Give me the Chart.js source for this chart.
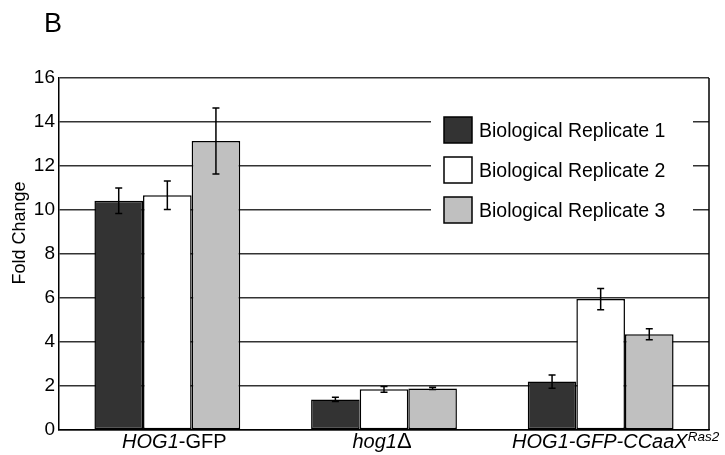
<!DOCTYPE html>
<html>
<head>
<meta charset="utf-8">
<script src="https://cdn.jsdelivr.net/npm/chart.js@4/dist/chart.umd.min.js"></script>
<style>
  html, body { margin: 0; padding: 0; background: #fff; }
  #wrap { width: 725px; height: 455px; position: relative; }
</style>
</head>
<body>
<div id="wrap"><canvas id="chart" width="725" height="455"></canvas></div>
<script>
'use strict';

// ── DATA ──────────────────────────────────────────────────────────────────────
const CATEGORIES = ['HOG1-GFP', 'hog1Δ', 'HOG1-GFP-CCaaX Ras2'];
// label runs: [text, italic, superscript]
const CATEGORY_RUNS = [
  [['HOG1', true], ['-GFP', false]],
  [['hog1', true], ['Δ', false]],
  [['HOG1-GFP-CCaaX', true], ['Ras2', true, true]],
];
const SERIES = ['Biological Replicate 1', 'Biological Replicate 2', 'Biological Replicate 3'];
const REP1 = [10.42, 1.39, 2.20];
const REP2 = [10.67, 1.85, 5.95];
const REP3 = [13.14, 1.89, 4.35];
const ERR1 = [0.58, 0.10, 0.30];
const ERR2 = [0.65, 0.13, 0.48];
const ERR3 = [1.50, 0.05, 0.25];
const Y_TICKS = [0, 2, 4, 6, 8, 10, 12, 14, 16];

const FILLS = ['#333333', '#ffffff', '#c0c0c0'];
const LABEL_SHIFT = [7, -2, 15];   // nudge of each category label from bar-group centre
const FONT = 'Arial, "Liberation Sans", sans-serif';

// ── PLUGINS ───────────────────────────────────────────────────────────────────
const errorBars = {
  id: 'errorBars',
  afterDatasetsDraw(chart) {
    const { ctx, scales: { y } } = chart;
    const errs = [ERR1, ERR2, ERR3];
    ctx.save();
    ctx.strokeStyle = '#000';
    ctx.lineWidth = 1.5;
    chart.data.datasets.forEach((ds, di) => {
      chart.getDatasetMeta(di).data.forEach((bar, i) => {
        const v = ds.data[i], e = errs[di][i];
        const yt = y.getPixelForValue(v + e), yb = y.getPixelForValue(v - e);
        ctx.beginPath();
        ctx.moveTo(bar.x, yt); ctx.lineTo(bar.x, yb);
        ctx.moveTo(bar.x - 3.5, yt); ctx.lineTo(bar.x + 3.5, yt);
        ctx.moveTo(bar.x - 3.5, yb); ctx.lineTo(bar.x + 3.5, yb);
        ctx.stroke();
      });
    });
    ctx.restore();
  },
};

const frameAndText = {
  id: 'frameAndText',
  afterDraw(chart) {
    const { ctx, chartArea: a, scales: { x } } = chart;
    ctx.save();

    // right border of plot
    ctx.strokeStyle = '#000';
    ctx.lineWidth = 1.5;
    ctx.beginPath();
    ctx.moveTo(a.right, a.top); ctx.lineTo(a.right, a.bottom);
    ctx.stroke();

    // legend box over the gridlines
    ctx.fillStyle = '#fff';
    ctx.fillRect(431, 98, 262, 140);
    SERIES.forEach((name, i) => {
      const top = 117 + i * 40;
      ctx.fillStyle = FILLS[i];
      ctx.fillRect(444, top, 28, 26);
      ctx.strokeStyle = '#000';
      ctx.lineWidth = 1.5;
      ctx.strokeRect(444, top, 28, 26);
      ctx.fillStyle = '#000';
      ctx.font = '19.5px ' + FONT;
      ctx.textBaseline = 'alphabetic';
      ctx.textAlign = 'left';
      ctx.fillText(name, 479, top + 20);
    });

    // category labels with italic runs
    CATEGORY_RUNS.forEach((runs, i) => {
      const cx = x.getPixelForTick(i) + LABEL_SHIFT[i];
      const fontFor = r => (r[1] ? 'italic ' : '') +
        (r[2] ? '13.5px ' : (r[0] === 'Δ' ? '22px ' : '20px ')) + FONT;
      let w = 0;
      runs.forEach(r => { ctx.font = fontFor(r); w += ctx.measureText(r[0]).width; });
      let px = cx - w / 2;
      ctx.fillStyle = '#000';
      ctx.textAlign = 'left';
      runs.forEach(r => {
        ctx.font = fontFor(r);
        ctx.fillText(r[0], px, r[2] ? 441 : 448);
        px += ctx.measureText(r[0]).width;
      });
    });

    // axis title
    ctx.font = '18px ' + FONT;
    ctx.textAlign = 'center';
    ctx.translate(25, 233);
    ctx.rotate(-Math.PI / 2);
    ctx.fillText('Fold Change', 0, 0);
    ctx.restore();

    // panel letter
    ctx.save();
    ctx.fillStyle = '#000';
    ctx.font = '27px ' + FONT;
    ctx.textAlign = 'left';
    ctx.fillText('B', 44, 32);
    ctx.restore();
  },
};

// ── CHART ─────────────────────────────────────────────────────────────────────
new Chart(document.getElementById('chart'), {
  type: 'bar',
  data: {
    labels: CATEGORIES,
    datasets: [REP1, REP2, REP3].map((d, i) => ({
      label: SERIES[i],
      data: d,
      backgroundColor: FILLS[i],
      borderColor: '#000',
      borderWidth: 1.5,
      borderSkipped: false,
      categoryPercentage: 0.673,
      barPercentage: 1.0,
    })),
  },
  options: {
    responsive: false,
    animation: false,
    devicePixelRatio: 1,
    layout: { padding: { top: 78, right: 16, bottom: 0, left: 0 } },
    plugins: { legend: { display: false }, tooltip: { enabled: false } },
    scales: {
      x: {
        ticks: { display: false },
        grid: { display: false },
        border: { color: '#000', width: 1.5 },
        afterFit: s => { s.height = 25; },
      },
      y: {
        min: 0,
        max: 16,
        afterBuildTicks: s => { s.ticks = Y_TICKS.map(v => ({ value: v })); },
        ticks: { color: '#000', font: { size: 19, family: FONT }, padding: 4 },
        grid: { color: '#333', lineWidth: 1.5, drawTicks: false },
        border: { color: '#000', width: 1.5 },
        afterFit: s => { s.width = 59; },
      },
    },
  },
  plugins: [errorBars, frameAndText],
});
</script>
</body>
</html>
